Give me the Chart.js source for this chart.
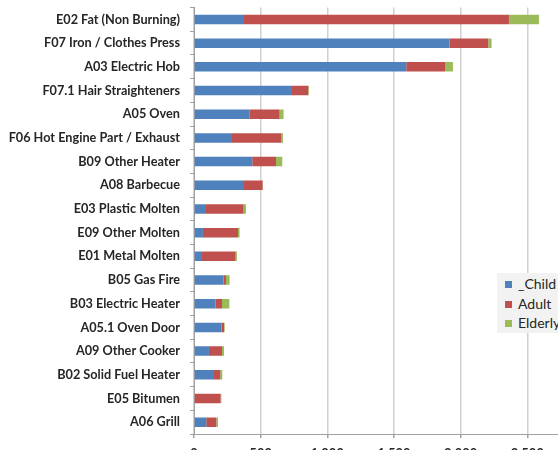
<!DOCTYPE html>
<html>
<head>
<meta charset="utf-8">
<title>Injuries by source</title>
<script src="https://cdn.jsdelivr.net/npm/chart.js@4.4.0/dist/chart.umd.min.js"></script>
<style>
  html, body { margin: 0; padding: 0; background: #fff; overflow: hidden; }
  #wrap { position: relative; width: 558px; height: 450px; overflow: hidden; }
  #box { position: absolute; left: 0; top: -10px; width: 640px; height: 480px; }
  #legend {
    position: absolute; left: 497px; top: 273px; width: 100px; height: 60px;
    background: #f2f2f2; font: 14px Lato, "Open Sans", sans-serif; color: #262626;
  }
  #legend div { position: absolute; left: 8px; white-space: nowrap; line-height: 14px; }
  #legend span { display: inline-block; width: 7px; height: 7px; margin-right: 6px; vertical-align: 1px; }
</style>
</head>
<body>
<div id="wrap">
  <div id="box"><canvas id="chart"></canvas></div>
  <div id="legend"></div>
</div>
<script>
// data
const categories = [
  'E02 Fat (Non Burning)', 'F07 Iron / Clothes Press', 'A03 Electric Hob',
  'F07.1 Hair Straighteners', 'A05 Oven', 'F06 Hot Engine Part / Exhaust',
  'B09 Other Heater', 'A08 Barbecue', 'E03 Plastic Molten', 'E09 Other Molten',
  'E01 Metal Molten', 'B05 Gas Fire', 'B03 Electric Heater', 'A05.1 Oven Door',
  'A09 Other Cooker', 'B02 Solid Fuel Heater', 'E05 Bitumen', 'A06 Grill'
];
const seriesNames = ['_Child', 'Adult', 'Elderly'];
const childValues   = [375, 1917, 1592, 735, 415, 285, 437, 375, 90, 67, 60, 222, 162, 207, 112, 150, 0, 92];
const adultValues   = [1987, 290, 293, 122, 227, 370, 178, 140, 282, 263, 252, 18, 48, 18, 98, 47, 200, 75];
const elderlyValues = [225, 25, 57, 5, 30, 12, 47, 2, 18, 12, 10, 27, 55, 5, 15, 15, 5, 13];
const xTicks = [0, 500, 1000, 1500, 2000, 2500, 3000];

const colors = ['#4f81bd', '#c0504d', '#9bbb59'];
const allValues = [childValues, adultValues, elderlyValues];

// legend (html, sits over the plot like the original)
const legend = document.getElementById('legend');
seriesNames.forEach((name, i) => {
  const row = document.createElement('div');
  row.style.top = (4 + i * 19.5) + 'px';
  row.innerHTML = '<span style="background:' + colors[i] + '"></span>' + name;
  legend.appendChild(row);
});

const ctx = document.getElementById('chart').getContext('2d');
new Chart(ctx, {
  type: 'bar',
  data: {
    labels: categories,
    datasets: seriesNames.map((name, i) => ({
      label: name,
      data: allValues[i],
      backgroundColor: colors[i],
      borderWidth: 0,
      categoryPercentage: 1,
      barPercentage: 0.4
    }))
  },
  options: {
    indexAxis: 'y',
    responsive: true,
    maintainAspectRatio: false,
    animation: false,
    layout: { padding: { top: 7, right: 46, left: 0, bottom: 0 } },
    plugins: {
      legend: { display: false },
      tooltip: { enabled: false }
    },
    scales: {
      x: {
        stacked: true,
        min: 0,
        max: 3000,
        afterBuildTicks: (scale) => { scale.ticks = xTicks.map(v => ({ value: v })); },
        afterFit: (scale) => { scale.height = 36; },
        grid: { color: '#d0d0d0', lineWidth: 1.5, tickLength: 4, tickColor: '#a0a0a0' },
        border: { color: '#a0a0a0', width: 1 },
        ticks: { padding: 8, color: '#262626', font: { family: 'Lato', size: 13, weight: 'bold' } }
      },
      y: {
        stacked: true,
        afterFit: (scale) => { scale.width = 194; },
        grid: { drawOnChartArea: false, tickLength: 4, color: '#a0a0a0', offset: true },
        border: { color: '#a0a0a0', width: 1 },
        ticks: { padding: 10, color: '#262626', font: { family: 'Lato', size: 12.7, weight: 'bold' } }
      }
    }
  }
});
</script>
</body>
</html>
